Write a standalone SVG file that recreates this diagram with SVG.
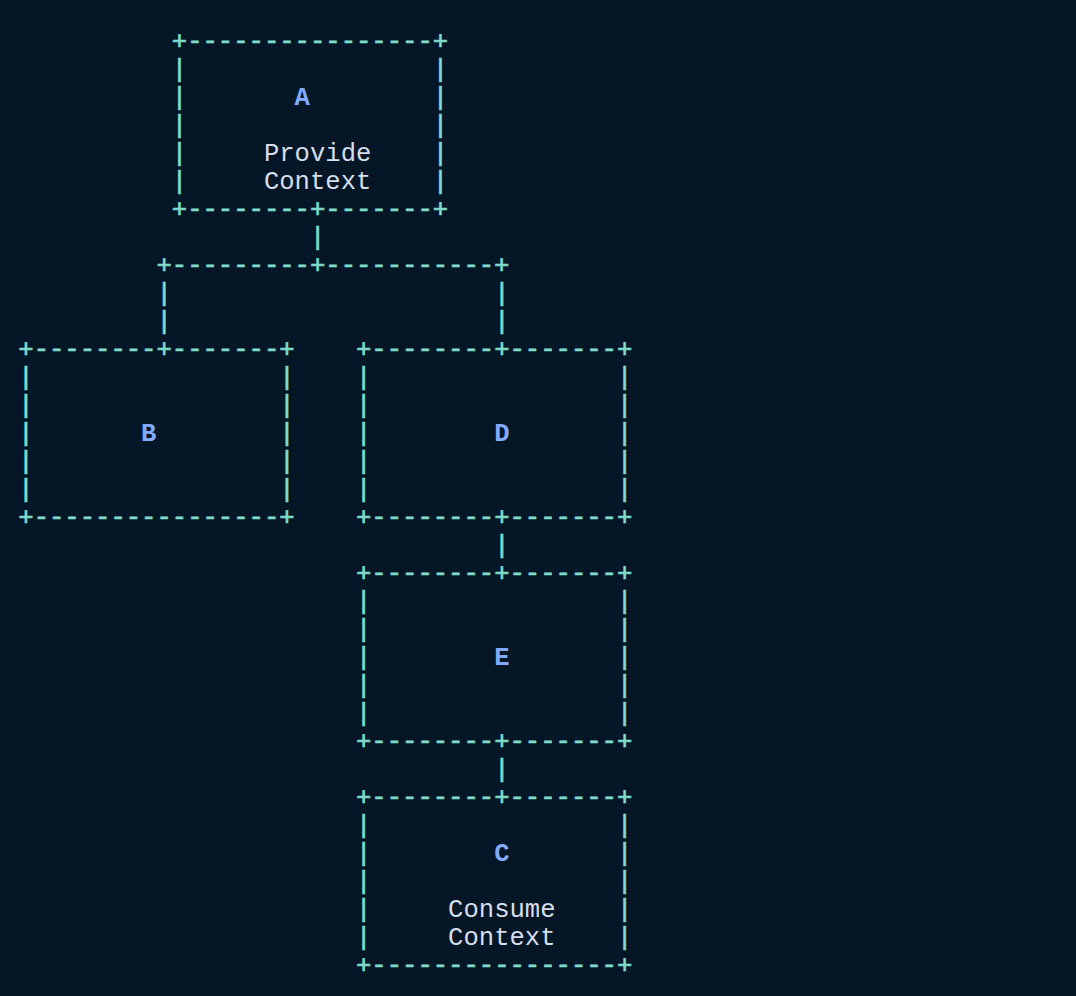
<svg xmlns="http://www.w3.org/2000/svg" width="1076" height="996" viewBox="0 0 1076 996">
<style>
text{font-family:"Liberation Mono","DejaVu Sans Mono",monospace;font-size:25.58px}
.b{fill:#7fdbca;stroke:#7fdbca;stroke-width:0.7}
.l{fill:#82aaff;font-weight:bold}
.t{fill:#d6deeb}
</style>
<rect width="1076" height="996" fill="#051727"/>
<g id="connectors">
<text class="b" x="309.95" y="245">|</text>
<text class="b" x="156.45" y="273">+---------+-----------+</text>
<text class="b" x="156.45" y="301">|</text>
<text class="b" x="156.45" y="329">|</text>
<text class="b" x="494.15" y="301">|</text>
<text class="b" x="494.15" y="329">|</text>
<text class="b" x="494.15" y="553">|</text>
<text class="b" x="494.15" y="777">|</text>
</g>
<g id="node-A">
<text class="b" x="171.8" y="49">+----------------+</text>
<text class="b" x="171.8" y="77">|</text><text class="b" x="432.75" y="77">|</text>
<text class="b" x="171.8" y="105">|</text><text class="b" x="432.75" y="105">|</text>
<text class="b" x="171.8" y="133">|</text><text class="b" x="432.75" y="133">|</text>
<text class="b" x="171.8" y="161">|</text><text class="b" x="432.75" y="161">|</text>
<text class="b" x="171.8" y="189">|</text><text class="b" x="432.75" y="189">|</text>
<text class="b" x="171.8" y="217">+--------+-------+</text>
<text class="l" x="294.6" y="105">A</text>
<text class="t" x="263.9" y="161">Provide</text>
<text class="t" x="263.9" y="189">Context</text>
</g>
<g id="node-B">
<text class="b" x="18.3" y="357">+--------+-------+</text>
<text class="b" x="18.3" y="385">|</text><text class="b" x="279.25" y="385">|</text>
<text class="b" x="18.3" y="413">|</text><text class="b" x="279.25" y="413">|</text>
<text class="b" x="18.3" y="441">|</text><text class="b" x="279.25" y="441">|</text>
<text class="b" x="18.3" y="469">|</text><text class="b" x="279.25" y="469">|</text>
<text class="b" x="18.3" y="497">|</text><text class="b" x="279.25" y="497">|</text>
<text class="b" x="18.3" y="525">+----------------+</text>
<text class="l" x="141.1" y="441">B</text>
</g>
<g id="node-D">
<text class="b" x="356" y="357">+--------+-------+</text>
<text class="b" x="356" y="385">|</text><text class="b" x="617" y="385">|</text>
<text class="b" x="356" y="413">|</text><text class="b" x="617" y="413">|</text>
<text class="b" x="356" y="441">|</text><text class="b" x="617" y="441">|</text>
<text class="b" x="356" y="469">|</text><text class="b" x="617" y="469">|</text>
<text class="b" x="356" y="497">|</text><text class="b" x="617" y="497">|</text>
<text class="b" x="356" y="525">+--------+-------+</text>
<text class="l" x="494.15" y="441">D</text>
</g>
<g id="node-E">
<text class="b" x="356" y="581">+--------+-------+</text>
<text class="b" x="356" y="609">|</text><text class="b" x="617" y="609">|</text>
<text class="b" x="356" y="637">|</text><text class="b" x="617" y="637">|</text>
<text class="b" x="356" y="665">|</text><text class="b" x="617" y="665">|</text>
<text class="b" x="356" y="693">|</text><text class="b" x="617" y="693">|</text>
<text class="b" x="356" y="721">|</text><text class="b" x="617" y="721">|</text>
<text class="b" x="356" y="749">+--------+-------+</text>
<text class="l" x="494.15" y="665">E</text>
</g>
<g id="node-C">
<text class="b" x="356" y="805">+--------+-------+</text>
<text class="b" x="356" y="833">|</text><text class="b" x="617" y="833">|</text>
<text class="b" x="356" y="861">|</text><text class="b" x="617" y="861">|</text>
<text class="b" x="356" y="889">|</text><text class="b" x="617" y="889">|</text>
<text class="b" x="356" y="917">|</text><text class="b" x="617" y="917">|</text>
<text class="b" x="356" y="945">|</text><text class="b" x="617" y="945">|</text>
<text class="b" x="356" y="973">+----------------+</text>
<text class="l" x="494.15" y="861">C</text>
<text class="t" x="448.1" y="917">Consume</text>
<text class="t" x="448.1" y="945">Context</text>
</g>
</svg>
